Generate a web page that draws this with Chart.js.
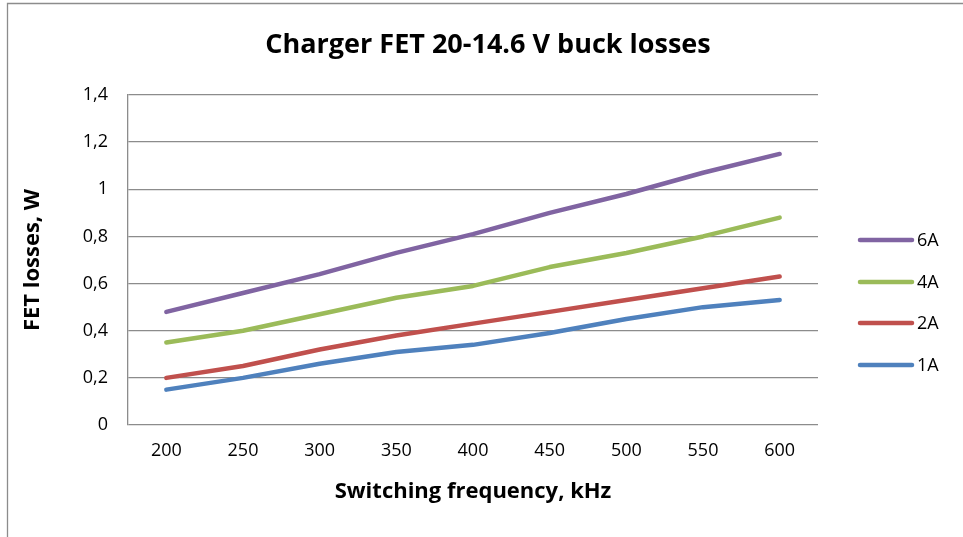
<!DOCTYPE html>
<html>
<head>
<meta charset="utf-8">
<script src="https://cdn.jsdelivr.net/npm/chart.js@4/dist/chart.umd.min.js"></script>
<style>
  html, body { margin: 0; padding: 0; background: #ffffff; }
  #c { display: block; }
</style>
</head>
<body>
<canvas id="c" width="963" height="537"></canvas>
<script>
const categories = [200, 250, 300, 350, 400, 450, 500, 550, 600];
const seriesNames = ['6A', '4A', '2A', '1A'];
const losses6A = [0.48, 0.56, 0.64, 0.73, 0.81, 0.90, 0.98, 1.07, 1.15];
const losses4A = [0.35, 0.40, 0.47, 0.54, 0.59, 0.67, 0.73, 0.80, 0.88];
const losses2A = [0.20, 0.25, 0.32, 0.38, 0.43, 0.48, 0.53, 0.58, 0.63];
const losses1A = [0.15, 0.20, 0.26, 0.31, 0.34, 0.39, 0.45, 0.50, 0.53];
const yTicks = [0, 0.2, 0.4, 0.6, 0.8, 1, 1.2, 1.4];

const FONT = "'Open Sans', 'Liberation Sans', sans-serif";
const GRID = '#8c8c8c';
const colors = ['#8064A2', '#9BBB59', '#C0504D', '#4F81BD'];
const seriesData = [losses6A, losses4A, losses2A, losses1A];

const datasets = seriesNames.map((name, i) => ({
  label: name,
  data: seriesData[i],
  borderColor: colors[i],
  backgroundColor: colors[i],
  borderWidth: 4.5,
  borderCapStyle: 'round',
  borderJoinStyle: 'round',
  pointRadius: 0,
  pointHoverRadius: 0,
  tension: 0,
  fill: false
}));

const decorPlugin = {
  id: 'decor',
  beforeDraw(chart) {
    const ctx = chart.ctx;
    ctx.save();
    ctx.fillStyle = '#ffffff';
    ctx.fillRect(0, 0, chart.width, chart.height);
    ctx.strokeStyle = GRID;
    ctx.lineWidth = 1.3;
    ctx.beginPath();
    ctx.moveTo(7.5, chart.height);
    ctx.lineTo(7.5, 3.5);
    ctx.lineTo(chart.width, 3.5);
    ctx.stroke();
    ctx.restore();
  },
  afterDraw(chart) {
    const ctx = chart.ctx;
    ctx.save();
    // title
    ctx.fillStyle = '#000000';
    ctx.font = "bold 27px " + FONT;
    ctx.textAlign = 'center';
    ctx.textBaseline = 'middle';
    ctx.fillText('Charger FET 20-14.6 V buck losses', 488, 45);
    // legend
    const ys = [240, 282, 323, 365];
    ctx.font = "18px " + FONT;
    ctx.textAlign = 'left';
    chart.data.datasets.forEach((ds, i) => {
      const y = ys[i];
      ctx.strokeStyle = ds.borderColor;
      ctx.lineWidth = 4.5;
      ctx.lineCap = 'round';
      ctx.beginPath();
      ctx.moveTo(860, y);
      ctx.lineTo(912, y);
      ctx.stroke();
      ctx.fillStyle = '#000000';
      ctx.fillText(ds.label, 917, y + 1);
    });
    ctx.restore();
  }
};

new Chart(document.getElementById('c'), {
  type: 'line',
  data: { labels: categories, datasets: datasets },
  options: {
    responsive: false,
    animation: false,
    devicePixelRatio: 1,
    layout: { padding: { top: 95, right: 145, left: 0, bottom: 0 } },
    plugins: {
      legend: { display: false },
      title: { display: false },
      tooltip: { enabled: false }
    },
    scales: {
      x: {
        type: 'category',
        offset: true,
        grid: { display: false, drawTicks: false },
        border: { display: false },
        ticks: { color: '#000000', font: { family: FONT, size: 18 }, padding: 15, maxRotation: 0 },
        title: {
          display: true,
          text: 'Switching frequency, kHz',
          color: '#000000',
          font: { family: FONT, size: 22, weight: 'bold' },
          padding: { top: 0, bottom: 32 }
        },
        afterFit(scale) { scale.height = 112; }
      },
      y: {
        min: 0,
        max: 1.4,
        afterBuildTicks(scale) { scale.ticks = yTicks.map(v => ({ value: v })); },
        grid: { color: GRID, lineWidth: 1.3, drawTicks: false },
        border: { display: true, color: GRID, width: 1.3 },
        ticks: {
          color: '#000000',
          font: { family: FONT, size: 18 },
          padding: 20,
          callback: (v) => String(Math.round(v * 10) / 10).replace('.', ',')
        },
        title: {
          display: true,
          text: 'FET losses, W',
          color: '#000000',
          font: { family: FONT, size: 22, weight: 'bold' },
          padding: { top: 20, bottom: 0 }
        },
        afterFit(scale) { scale.width = 128; }
      }
    }
  },
  plugins: [decorPlugin]
});
</script>
</body>
</html>
